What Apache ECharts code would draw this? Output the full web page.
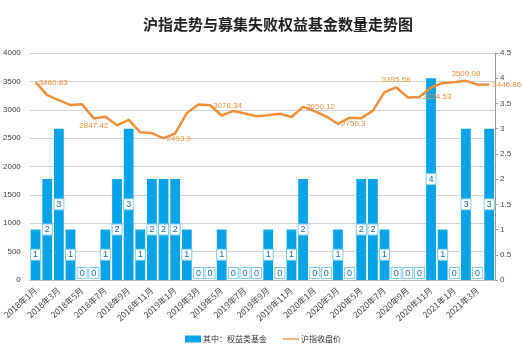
<!DOCTYPE html>
<html>
<head>
<meta charset="utf-8">
<script src="https://cdn.jsdelivr.net/npm/echarts@6/dist/echarts.min.js"></script>
<style>
  html, body { margin: 0; padding: 0; background: #fff; }
  #chart { width: 522px; height: 354px; }
</style>
</head>
<body>
<div id="chart"></div>
<script>
// Months from 2018-01 to 2021-04
const months = [
    '2018年1月', '2018年2月', '2018年3月', '2018年4月', '2018年5月', '2018年6月',
    '2018年7月', '2018年8月', '2018年9月', '2018年10月', '2018年11月', '2018年12月',
    '2019年1月', '2019年2月', '2019年3月', '2019年4月', '2019年5月', '2019年6月',
    '2019年7月', '2019年8月', '2019年9月', '2019年10月', '2019年11月', '2019年12月',
    '2020年1月', '2020年2月', '2020年3月', '2020年4月', '2020年5月', '2020年6月',
    '2020年7月', '2020年8月', '2020年9月', '2020年10月', '2020年11月', '2020年12月',
    '2021年1月', '2021年2月', '2021年3月', '2021年4月'
];

// Failed equity funds per month
const failedFunds = [
    1, 2, 3, 1, 0, 0, 1, 2, 3, 1, 2, 2,
    2, 1, 0, 0, 1, 0, 0, 0, 1, 0, 1, 2,
    0, 0, 1, 0, 2, 2, 1, 0, 0, 0, 4, 1,
    0, 3, 0, 3
];

// SSE composite monthly close
const indexClose = [
    3480.83, 3259.41, 3168.90, 3082.23, 3095.47, 2847.42, 2876.40, 2725.25, 2821.35, 2602.78, 2588.19, 2493.90,
    2584.57, 2940.95, 3090.76, 3078.34, 2898.70, 2978.88, 2932.51, 2886.24, 2905.19, 2929.06, 2871.98, 3050.12,
    2976.53, 2880.30, 2750.30, 2860.08, 2852.35, 2984.67, 3310.01, 3395.68, 3218.05, 3224.53, 3391.76, 3473.07,
    3483.07, 3509.08, 3441.91, 3446.86
];

// Which points of the line carry a label: [position, offset]
const labelledPoints = {
    0: ['right', [4, 0]],
    5: ['bottom', [0, 0]],
    11: ['right', [4, 0]],
    15: ['right', [4, 0]],
    23: ['right', [4, 0]],
    26: ['right', [14, 0]],
    31: ['top', [11, 3]],
    33: ['right', [5, 1]],
    37: ['top', [11, 0]],
    39: ['right', [0, 9]]
};

const BAR_COLOR = '#06A3E6';
const LINE_COLOR = '#EF8F3C';

const chart = echarts.init(document.getElementById('chart'));

const barData = failedFunds.map(v => ({
    value: v,
    label: v === 0 ? { position: 'top', distance: 2 } : { position: 'inside' }
}));

const lineData = indexClose.map((v, i) => {
    const cfg = labelledPoints[i];
    if (!cfg) return v;
    return { value: v, label: { show: true, position: cfg[0], offset: cfg[1], distance: 3 } };
});

const option = {
    animation: false,
    title: {
        text: '沪指走势与募集失败权益基金数量走势图',
        left: 138,
        top: 12,
        textStyle: {
            fontFamily: 'Noto Sans CJK SC',
            fontSize: 15,
            fontWeight: 'bold',
            color: '#222'
        }
    },
    legend: {
        bottom: 6,
        left: 180,
        itemWidth: 16,
        itemHeight: 7,
        itemGap: 16,
        textStyle: { fontSize: 8, color: '#333', fontFamily: 'Noto Sans CJK SC', padding: [0, 0, 0, -3] },
        data: [
            { name: '其中：权益类基金', icon: 'rect' },
            { name: '沪指收盘价', icon: 'path://M0,0 H20 V1.6 H0 Z', itemStyle: { color: LINE_COLOR } }
        ]
    },
    grid: { left: 29, right: 27, top: 53, bottom: 74 },
    xAxis: {
        type: 'category',
        data: months,
        axisLine: { show: true, lineStyle: { color: '#bbb' } },
        axisTick: { show: false },
        axisLabel: {
            interval: 1,
            rotate: 42,
            fontSize: 8.5,
            color: '#444',
            margin: 9,
            fontFamily: 'Noto Sans CJK SC'
        }
    },
    yAxis: [
        {
            type: 'value',
            min: 0,
            max: 4000,
            interval: 500,
            axisLine: { show: false },
            axisTick: { show: false },
            axisLabel: { fontSize: 8, color: '#444', margin: 9, formatter: v => String(v) },
            splitLine: { lineStyle: { color: '#d4d4d4' } }
        },
        {
            type: 'value',
            min: 0,
            max: 4.5,
            interval: 0.5,
            axisLine: { show: true, lineStyle: { color: '#999' } },
            axisTick: { show: true, length: 3, lineStyle: { color: '#999' } },
            axisLabel: { fontSize: 8, color: '#444', margin: 5, formatter: v => String(v) },
            splitLine: { show: false }
        }
    ],
    series: [
        {
            name: '其中：权益类基金',
            type: 'bar',
            yAxisIndex: 1,
            barCategoryGap: '16%',
            itemStyle: { color: BAR_COLOR },
            label: {
                show: true,
                fontSize: 9,
                color: '#1E6AB0',
                backgroundColor: '#fff',
                borderColor: '#7fcff2',
                borderWidth: 1,
                padding: [1, 2, 0, 2]
            },
            data: barData
        },
        {
            name: '沪指收盘价',
            type: 'line',
            yAxisIndex: 0,
            symbol: 'circle',
            symbolSize: 0.1,
            showSymbol: true,
            lineStyle: { color: LINE_COLOR, width: 2.5 },
            itemStyle: { color: LINE_COLOR },
            label: { show: false, fontSize: 8, color: LINE_COLOR },
            labelLayout: { hideOverlap: false },
            z: 5,
            data: lineData
        }
    ]
};

chart.setOption(option);
</script>
</body>
</html>
